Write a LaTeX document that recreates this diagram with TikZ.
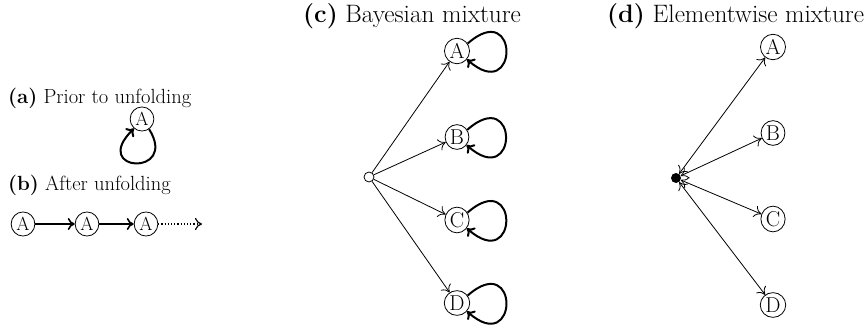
\documentclass[tikz,border=0pt]{standalone}
\usetikzlibrary{arrows.meta,shapes.geometric}
\begin{document}
\begin{tikzpicture}[x=1pt,y=-1pt,
  >={Computer Modern Rightarrow[length=7pt,width=12pt]},
  big/.style={font=\fontsize{25.2}{28}\selectfont},
  small/.style={font=\fontsize{20.5}{24}\selectfont},
  cnode/.style={draw, ellipse, inner sep=1.4pt, line width=0.8pt, font=\fontsize{21.5}{24}\selectfont},
  anode/.style={draw, ellipse, inner sep=1.8pt, line width=0.8pt, font=\fontsize{19}{22}\selectfont},
  lbl/.style={anchor=west, inner sep=0},
  thinarr/.style={->, line width=0.8pt},
  loopline/.style={->, line width=2pt},
]
\useasboundingbox (0,0) rectangle (868,332);

% (a)
\node[lbl, small] (la) at (8,98) {\textbf{(a)} Prior to unfolding};
\node[anode] (aA) at (142,119) {A};
\draw[loopline] (aA.-55) .. controls +(30,48) and +(-45,44) .. (aA.-130);

% (b)
\node[lbl, small] (lb) at (8,185) {\textbf{(b)} After unfolding};
\node[anode] (b1) at (23,224) {A};
\node[anode] (b2) at (87,224) {A};
\node[anode] (b3) at (146,224) {A};
\coordinate (bend) at (202,224);
\draw[->, line width=1.6pt] (b1) -- (b2);
\draw[->, line width=1.6pt] (b2) -- (b3);
\draw[->, line width=1.2pt, dotted] (b3) -- (bend);

% (c)
\node[lbl, big] (lc) at (303,16) {\textbf{(c)} Bayesian mixture};
\node[draw, circle, minimum size=10pt, inner sep=0, line width=0.8pt] (s) at (369,177) {};
\foreach \n/\y in {A/51,B/137,C/220,D/303}{
  \node[cnode] (c\n) at (457,\y) {\n};
  \draw[thinarr] (s) -- (c\n);
  \draw[loopline] (c\n.35) .. controls +(52,-46) and +(52,46) .. (c\n.-40);
}

% (d)
\node[lbl, big] (ld) at (607,16) {\textbf{(d)} Elementwise mixture};
\node[circle, fill, minimum size=10pt, inner sep=0] (t) at (676,178) {};
\foreach \n/\y in {A/47,B/133,C/219,D/305}{
  \node[cnode] (d\n) at (773,\y) {\n};
  \draw[<->, line width=0.8pt] (t) -- (d\n);
}
\end{tikzpicture}
\end{document}
